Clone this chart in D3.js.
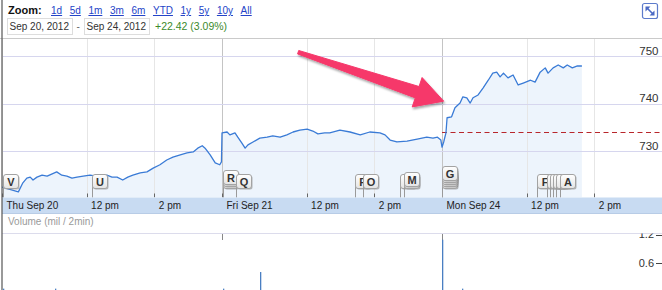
<!DOCTYPE html>
<html>
<head>
<meta charset="utf-8">
<script src="https://cdnjs.cloudflare.com/ajax/libs/d3/7.8.5/d3.min.js"></script>
<style>
body { margin: 0; background: #fff; }
svg { display: block; font-family: "Liberation Sans", Arial, sans-serif; }
</style>
</head>
<body>
<div id="chart"></div>
<script>
// trading minutes since Thu Sep 20 09:30 (three sessions of 390 min)
var priceTimes = [0, 29, 37, 44, 50, 55, 62, 71, 80, 89, 97, 106, 115, 124, 133, 144, 156, 168, 186, 195,
    204, 214, 223, 232, 245, 257, 268, 280, 292, 303, 316, 328, 339, 347, 355, 360, 369, 378, 386, 389,
    390, 399, 404, 413, 418, 425, 431, 436, 445, 457, 470, 480, 493, 505, 516, 528, 541, 551, 560, 572,
    581, 599, 617, 635, 652, 670, 679, 688, 700, 718, 736, 753, 764, 772, 778,
    780, 783, 787, 789, 797, 803, 812, 817, 824, 830, 835, 844, 853, 862, 870, 877, 883, 889, 897, 906,
    915, 924, 937, 945, 954, 963, 968, 977, 986, 995, 1002, 1011, 1020, 1028];
var prices = [722.4, 721.4, 723.3, 724.3, 724.5, 723.9, 724.5, 724.9, 724.7, 725.2, 725.6, 724.9, 724.7, 724.3, 724.5, 724.7, 724.9, 724.7, 724.9, 724.5,
    724.5, 723.9, 724.5, 724.9, 725.4, 725.6, 726.4, 727.1, 728.1, 728.7, 729.2, 729.6, 729.8, 730.6, 731.1, 730.6, 729.2, 727.5, 727.1, 727.7,
    733.8, 734.0, 733.4, 733.8, 732.9, 731.7, 730.6, 731.3, 731.9, 732.7, 732.9, 733.2, 732.9, 733.4, 734.0, 734.4, 734.6, 734.2, 733.6, 733.8,
    733.8, 734.4, 734.0, 733.4, 734.0, 733.8, 733.4, 732.3, 731.9, 732.1, 732.5, 732.9, 732.7, 732.9, 732.3,
    730.8, 731.9, 733.8, 737.0, 737.2, 739.1, 740.1, 741.4, 741.2, 740.1, 741.2, 741.8, 743.3, 744.9, 746.4, 746.6, 745.6, 746.4, 745.4, 746.0,
    743.9, 744.3, 744.9, 744.5, 746.6, 747.5, 746.4, 747.5, 748.1, 747.5, 748.1, 747.5, 747.9, 747.9];

var volTimes = [2, 94, 392, 457, 780, 815];
var volValues = [0.06, 0.06, 0.06, 0.41, 1.09, 0.06];

var tickTimes = [0, 150, 270, 390, 540, 660, 780, 930, 1050];
var tickLabels = ["Thu Sep 20", "12 pm", "2 pm", "Fri Sep 21", "12 pm", "2 pm", "Mon Sep 24", "12 pm", "2 pm"];
var dayStarts = [390, 780];
var priceTicks = [730, 740, 750];
var volTicks = [0.6, 1.2];
var prevClose = 733.99;

var zoomLinks = ["1d", "5d", "1m", "3m", "6m", "YTD", "1y", "5y", "10y", "All"];
var rangeFrom = "Sep 20, 2012", rangeTo = "Sep 24, 2012", rangeChange = "+22.42 (3.09%)";

var flagLetters = ["V", "U", "R", "Q", "P", "O", "N", "M", "G", "F", "E", "D", "C", "B", "A"];
var flagTimes = [2, 160, 392, 415, 626, 640, 706, 713, 780, 948, 966, 971, 976, 982, 989];
var flagStack = [1, 1, 3, 1, 1, 1, 1, 2, 5, 1, 1, 1, 1, 1, 1];

// annotation arrow: [time, price]
var arrowFrom = [525, 750.8], arrowTo = [783, 740.5];

var W = 662, H = 290;

var svg = d3.select("#chart")
    .append("svg")
    .attr("width", W)
    .attr("height", H);

var defs = svg.append("defs");
var grad = defs.append("linearGradient").attr("id", "flagGrad")
    .attr("x1", 0).attr("y1", 0).attr("x2", 0).attr("y2", 1);
grad.append("stop").attr("offset", "0%").attr("stop-color", "#ffffff");
grad.append("stop").attr("offset", "100%").attr("stop-color", "#e4e4e4");
defs.append("filter").attr("id", "shadow")
    .attr("x", "-20%").attr("y", "-20%").attr("width", "140%").attr("height", "160%")
    .append("feDropShadow")
    .attr("dx", 1).attr("dy", 2).attr("stdDeviation", 1.3)
    .attr("flood-color", "#000").attr("flood-opacity", 0.35);
defs.append("clipPath").attr("id", "plotClip")
    .append("rect").attr("x", 2).attr("y", 39).attr("width", W).attr("height", 158.5);
defs.append("clipPath").attr("id", "volClip")
    .append("rect").attr("x", 2).attr("y", 233.5).attr("width", W).attr("height", 60);

// ---- header
svg.append("text")
    .attr("x", 8).attr("y", 14)
    .attr("font-size", "11px").attr("font-weight", "bold").attr("fill", "#111")
    .text("Zoom:");

var lx = 51;
zoomLinks.forEach(function(d) {
    var t = svg.append("text")
        .attr("x", lx).attr("y", 14)
        .attr("font-size", "10px").attr("fill", "#2444c8")
        .attr("text-decoration", "underline")
        .text(d);
    lx += t.node().getComputedTextLength() + 7.6;
});

svg.append("rect").attr("x", 7.5).attr("y", 18.5).attr("width", 65).attr("height", 16)
    .attr("fill", "#fff").attr("stroke", "#ddd");
svg.append("text").attr("x", 9.5).attr("y", 29.5)
    .attr("font-size", "10px").attr("fill", "#333").text(rangeFrom);
svg.append("text").attr("x", 76.5).attr("y", 29.5)
    .attr("font-size", "10px").attr("fill", "#666").text("-");
svg.append("rect").attr("x", 84.5).attr("y", 18.5).attr("width", 65).attr("height", 16)
    .attr("fill", "#fff").attr("stroke", "#ddd");
svg.append("text").attr("x", 86.5).attr("y", 29.5)
    .attr("font-size", "10px").attr("fill", "#333").text(rangeTo);
svg.append("text").attr("x", 155).attr("y", 29.5)
    .attr("font-size", "10.5px").attr("fill", "#3b8a2c").text(rangeChange);

// expand icon
var icon = svg.append("g").attr("transform", "translate(642.5,3.5)");
icon.append("rect").attr("width", 15).attr("height", 15).attr("rx", 2)
    .attr("fill", "#fff").attr("stroke", "#5d7bcb").attr("stroke-width", 1.2);
icon.append("line").attr("x1", 4).attr("y1", 4).attr("x2", 11).attr("y2", 11)
    .attr("stroke", "#4a69c4").attr("stroke-width", 1.6);
icon.append("path").attr("d", "M3,3 L8,3 L3,8 Z M12,12 L7,12 L12,7 Z").attr("fill", "#4a69c4");

svg.append("line").attr("x1", 0).attr("x2", W).attr("y1", 38.5).attr("y2", 38.5)
    .attr("stroke", "#cacaca");

// ---- scales
var x = d3.scaleLinear().domain([0, 1170]).range([2, 662]);
var y = d3.scaleLinear().domain([720, 750]).range([198.5, 56]);
var yVol = d3.scaleLinear().domain([0, 1.2]).range([291.5, 234.5]);

var series = priceTimes.map(function(t, i) {
    return { t: t, p: prices[i] };
});

var plot = svg.append("g").attr("clip-path", "url(#plotClip)");

plot.append("path")
    .datum(series)
    .attr("fill", "#edf4fc")
    .attr("d", d3.area()
        .x(function(d) { return x(d.t); })
        .y0(197.5)
        .y1(function(d) { return y(d.p); }));

// grid
plot.selectAll("line.vgrid")
    .data(tickTimes)
    .enter()
    .append("line")
    .attr("class", "vgrid")
    .attr("x1", function(d) { return Math.round(x(d)) + 0.5; })
    .attr("x2", function(d) { return Math.round(x(d)) + 0.5; })
    .attr("y1", 39).attr("y2", 197.5)
    .attr("stroke", function(d) { return dayStarts.indexOf(d) >= 0 ? "#c4c4c4" : "#e6e6e6"; });

plot.selectAll("line.hgrid")
    .data(priceTicks)
    .enter()
    .append("line")
    .attr("class", "hgrid")
    .attr("x1", 3).attr("x2", W)
    .attr("y1", function(d) { return Math.round(y(d)) + 0.5; })
    .attr("y2", function(d) { return Math.round(y(d)) + 0.5; })
    .attr("stroke", "#d6d6ee");

// previous close
var pcY = Math.round(y(prevClose)) + 0.5;
plot.append("line")
    .attr("x1", x(dayStarts[1])).attr("x2", W)
    .attr("y1", pcY).attr("y2", pcY)
    .attr("stroke", "#b8262b").attr("stroke-width", 1)
    .attr("stroke-dasharray", "5,3.5");

plot.append("path")
    .datum(series)
    .attr("fill", "none")
    .attr("stroke", "#3a7bd6")
    .attr("stroke-width", 1.3)
    .attr("stroke-linejoin", "round")
    .attr("d", d3.line()
        .x(function(d) { return x(d.t); })
        .y(function(d) { return y(d.p); }));

// axis ticks
plot.selectAll("line.xtick")
    .data(tickTimes)
    .enter()
    .append("line")
    .attr("x1", function(d) { return Math.round(x(d)) + 0.5; })
    .attr("x2", function(d) { return Math.round(x(d)) + 0.5; })
    .attr("y1", 193.5).attr("y2", 197.5)
    .attr("stroke", "#666");

// news flags (a letter is left off when the next flag's box covers it)
flagLetters.forEach(function(letter, i) {
    var fx = Math.round(x(flagTimes[i])) + 0.5;
    var covered = i < flagLetters.length - 1 && x(flagTimes[i + 1]) - x(flagTimes[i]) < 7;
    var g = svg.append("g");
    g.append("line")
        .attr("x1", fx).attr("x2", fx)
        .attr("y1", 185).attr("y2", 197.5)
        .attr("stroke", "#9a9a9a");
    for (var k = 0; k < flagStack[i]; k++) {
        var top = 174.5 - 2 * k;
        g.append("rect")
            .attr("x", fx + 1).attr("y", top + 1)
            .attr("width", 15).attr("height", 14).attr("rx", 2.5)
            .attr("fill", "#8a8a8a").attr("opacity", 0.6);
        g.append("rect")
            .attr("x", fx).attr("y", top)
            .attr("width", 15).attr("height", 14).attr("rx", 2.5)
            .attr("fill", "url(#flagGrad)")
            .attr("stroke", "#a3a3a3");
    }
    if (!covered) {
        g.append("text")
            .attr("x", fx + 7.5)
            .attr("y", 174.5 - 2 * (flagStack[i] - 1) + 11)
            .attr("text-anchor", "middle")
            .attr("font-size", "11px")
            .attr("font-weight", "bold")
            .attr("fill", "#333")
            .text(letter);
    }
});

// x axis band
svg.append("rect").attr("x", 2).attr("y", 197.5).attr("width", W).attr("height", 15.5)
    .attr("fill", "#c8dbf2");
svg.append("line").attr("x1", 2).attr("x2", W).attr("y1", 213.5).attr("y2", 213.5)
    .attr("stroke", "#b8cce6");

svg.selectAll("text.xAxis")
    .data(tickTimes)
    .enter()
    .append("text")
    .attr("class", "xAxis")
    .attr("x", function(d) { return x(d) + 4.5; })
    .attr("y", 208.5)
    .attr("font-size", "10px")
    .attr("fill", "#222")
    .text(function(d, i) { return tickLabels[i]; });

// price labels
svg.selectAll("text.yAxis")
    .data(priceTicks)
    .enter()
    .append("text")
    .attr("class", "yAxis")
    .attr("x", 658.5)
    .attr("y", function(d) { return y(d) - 1.5; })
    .attr("text-anchor", "end")
    .attr("font-size", "11.5px")
    .attr("fill", "#333")
    .text(function(d) { return d; });

// ---- volume panel
svg.append("text")
    .attr("x", 8).attr("y", 225)
    .attr("font-size", "10px").attr("fill", "#9a9a9a")
    .text("Volume (mil / 2min)");
svg.append("line").attr("x1", 2).attr("x2", W).attr("y1", 233.5).attr("y2", 233.5)
    .attr("stroke", "#dcdcec");

var vol = svg.append("g").attr("clip-path", "url(#volClip)");

vol.selectAll("line.day")
    .data(dayStarts)
    .enter()
    .append("line")
    .attr("x1", function(d) { return Math.round(x(d)) + 0.5; })
    .attr("x2", function(d) { return Math.round(x(d)) + 0.5; })
    .attr("y1", 234).attr("y2", 240)
    .attr("stroke", "#888");

vol.selectAll("rect.bar")
    .data(volTimes)
    .enter()
    .append("rect")
    .attr("class", "bar")
    .attr("x", function(d) { return Math.round(x(d)); })
    .attr("width", 1.3)
    .attr("y", function(d, i) { return yVol(volValues[i]); })
    .attr("height", function(d, i) { return yVol(0) - yVol(volValues[i]); })
    .attr("fill", "#4a7fc2");

vol.selectAll("text.vol")
    .data(volTicks)
    .enter()
    .append("text")
    .attr("x", 654)
    .attr("y", function(d) { return yVol(d); })
    .attr("dy", "0.35em")
    .attr("text-anchor", "end")
    .attr("font-size", "11px")
    .attr("fill", "#333")
    .text(function(d) { return d.toFixed(1); });

vol.selectAll("line.vtick")
    .data(volTicks)
    .enter()
    .append("line")
    .attr("x1", 656).attr("x2", W)
    .attr("y1", function(d) { return Math.round(yVol(d)) + 0.5; })
    .attr("y2", function(d) { return Math.round(yVol(d)) + 0.5; })
    .attr("stroke", "#444");

// left border
svg.append("line").attr("x1", 2).attr("x2", 2).attr("y1", 0).attr("y2", H)
    .attr("stroke", "#555").attr("stroke-width", 1.2);

// ---- annotation arrow
var p0 = [x(arrowFrom[0]), y(arrowFrom[1])],
    p1 = [x(arrowTo[0]), y(arrowTo[1])],
    len = Math.hypot(p1[0] - p0[0], p1[1] - p0[1]),
    u = [(p1[0] - p0[0]) / len, (p1[1] - p0[1]) / len],
    n = [-u[1], u[0]],
    headLen = 28, tailW = 1.8, neckW = 6, wingW = 15.5;

function pt(base, along, across) {
    return [base[0] + u[0] * along + n[0] * across, base[1] + u[1] * along + n[1] * across];
}

var arrowPts = [
    pt(p0, 0, -tailW),
    pt(p1, -headLen, -neckW),
    pt(p1, -headLen, -wingW),
    p1,
    pt(p1, -headLen, wingW),
    pt(p1, -headLen, neckW),
    pt(p0, 0, tailW)
];

svg.append("path")
    .attr("d", d3.line()(arrowPts) + "Z")
    .attr("fill", "#f6386b")
    .attr("stroke", "#f6386b")
    .attr("stroke-width", 1)
    .attr("stroke-linejoin", "round")
    .attr("filter", "url(#shadow)");
</script>
</body>
</html>
